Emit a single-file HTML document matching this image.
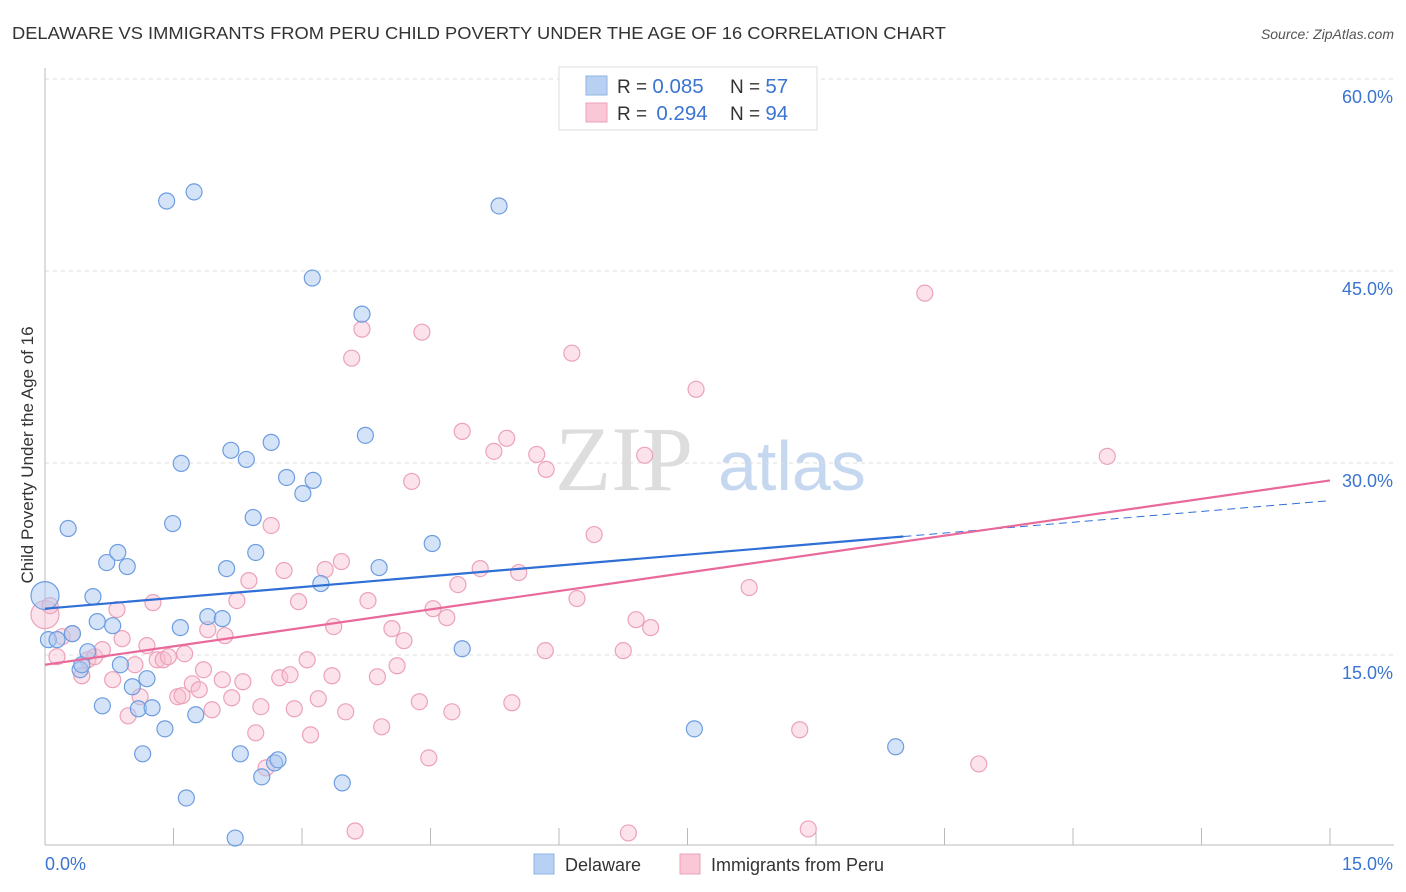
<!DOCTYPE html>
<html><head><meta charset="utf-8"><style>
body{margin:0;background:#fff;font-family:"Liberation Sans",sans-serif;}
svg{display:block}
</style></head><body>
<svg id="chart" width="1406" height="892">
<text x="12" y="39" font-size="17.5" fill="#333" textLength="934" lengthAdjust="spacingAndGlyphs">DELAWARE VS IMMIGRANTS FROM PERU CHILD POVERTY UNDER THE AGE OF 16 CORRELATION CHART</text>
<text x="1394" y="39" font-size="14" fill="#555" font-style="italic" text-anchor="end">Source: ZipAtlas.com</text>
<text x="33" y="455" font-size="17" fill="#333" text-anchor="middle" transform="rotate(-90 33 455)">Child Poverty Under the Age of 16</text>
<g><text x="555" y="490" font-size="92" font-family="Liberation Serif,serif" fill="#ddd">ZIP</text><text x="718" y="490" font-size="70" fill="#c5d8f0">atlas</text></g>
<g id="grid"></g><g id="axes"></g><g id="pts"></g><g id="lines"></g>
<g>
<rect x="559" y="67" width="258" height="63" fill="#fff" stroke="#ddd"/>
<rect x="586" y="76" width="21" height="19" fill="#b8d1f2" stroke="#8fb3e3"/>
<rect x="586" y="103" width="21" height="19" fill="#f9c7d6" stroke="#eba3ba"/>
<text x="617" y="93" font-size="19" fill="#333">R = <tspan fill="#3b74d1" font-size="20.5">0.085</tspan><tspan x="730">N = </tspan><tspan fill="#3b74d1" font-size="20.5">57</tspan></text>
<text x="617" y="120" font-size="19" fill="#333">R = <tspan fill="#3b74d1" dx="4" font-size="20.5">0.294</tspan><tspan x="730">N = </tspan><tspan fill="#3b74d1" font-size="20.5">94</tspan></text>
</g>
<g>
<rect x="534" y="854" width="20" height="20" fill="#b8d1f2" stroke="#8fb3e3"/>
<text x="565" y="871" font-size="18" fill="#333">Delaware</text>
<rect x="680" y="854" width="20" height="20" fill="#f9c7d6" stroke="#eba3ba"/>
<text x="711" y="871" font-size="18" fill="#333">Immigrants from Peru</text>
</g>
</svg>
<script>
const blueX=[0,.04,.27,.14,.32,.41,.43,.5,.56,.61,.67,.72,.79,.85,.88,.96,1.02,1.09,1.14,1.19,1.25,1.4,1.42,1.49,1.58,1.59,1.65,1.74,1.76,1.9,2.07,2.12,2.17,2.22,2.28,2.35,2.43,2.46,2.53,2.64,2.68,2.72,2.82,3.01,3.12,3.13,3.22,3.47,3.7,3.74,3.9,4.52,4.87,5.3,7.58,9.93];
const blueY=[19.64,16.2,24.88,16.2,16.67,13.85,14.24,15.26,19.56,17.61,11.03,22.22,17.29,23.01,14.24,21.91,12.52,10.8,7.28,13.15,10.88,9.23,50.47,25.27,17.14,29.97,3.83,51.18,10.33,18,17.84,21.75,30.99,.7,7.28,30.28,25.74,23.01,5.48,31.61,6.57,6.81,28.87,27.62,44.45,28.64,20.58,5.01,41.63,32.16,21.83,23.71,15.49,50.08,9.23,7.83];
const pinkX=[0,.06,.14,.2,.32,.43,.5,.58,.67,.79,.84,.9,.97,1.05,1.11,1.19,1.26,1.31,1.38,1.44,1.55,1.6,1.63,1.72,1.8,1.85,1.95,1.9,2.07,2.1,2.18,2.24,2.31,2.38,2.46,2.52,2.58,2.64,2.74,2.79,2.86,2.91,2.96,3.06,3.1,3.19,3.27,3.35,3.37,3.46,3.51,3.58,3.62,3.7,3.77,3.88,3.93,4.05,4.11,4.19,4.28,4.37,4.4,4.48,4.53,4.69,4.75,4.82,4.87,5.08,5.24,5.39,5.45,5.53,5.74,5.84,5.85,6.15,6.21,6.41,6.75,6.81,6.9,7,7.07,7.6,8.22,8.81,8.91,10.27,10.9,12.4];
const pinkY=[18.15,18.86,14.87,16.43,16.67,13.38,14.63,14.87,15.42,13.07,18.55,16.28,10.25,14.24,11.74,15.73,19.09,14.63,14.63,14.87,11.74,11.82,15.1,12.75,12.29,13.85,10.72,16.98,13.07,16.51,11.66,19.25,12.91,20.81,8.92,10.96,6.18,25.12,13.22,21.6,13.46,10.8,19.17,14.63,8.76,11.58,21.68,13.38,17.22,22.3,10.56,38.19,1.25,40.46,19.25,13.3,9.39,17.06,14.16,16.12,28.56,11.35,40.22,6.96,18.62,17.92,10.56,20.5,32.47,21.75,30.91,31.93,11.27,21.44,30.67,15.34,29.5,38.58,19.41,24.41,15.34,1.1,17.76,30.6,17.14,35.76,20.27,9.16,1.41,43.27,6.49,30.52];
const blueTrend=[18.62,27.06];const blueSolidEnd=10.02;
const pinkTrend=[14.24,28.64];
const yTicks=[15,30,45,60];const xTicks=[0,1.5,3,4.5,6,7.5,9,10.5,12,13.5,15];
const sx=v=>45+v/15*1285, sy=v=>847-v/60*768;
const NS="http://www.w3.org/2000/svg";
function mk(t,a,p){const e=document.createElementNS(NS,t);for(const k in a)e.setAttribute(k,a[k]);p.appendChild(e);return e;}
const grid=document.getElementById('grid'),axes=document.getElementById('axes');
yTicks.forEach(t=>{const l=mk('line',{x1:45,x2:1394,y1:sy(t),y2:sy(t),stroke:'#ddd','stroke-dasharray':'4,4'},grid);


const tx=mk('text',{x:1393,y:sy(t)+24,'font-size':18,fill:'#3b74d1','text-anchor':'end'},axes);tx.textContent=t.toFixed(1)+'%';

});
const ax=mk('line',{x1:45,x2:1394,y1:845,y2:845,stroke:'#bbb'},axes);


const ay=mk('line',{x1:45,x2:45,y1:68,y2:845,stroke:'#bbb'},axes);


xTicks.forEach(t=>{const l=mk('line',{x1:sx(t),x2:sx(t),y1:828,y2:845,stroke:'#bbb'},axes);

});
[[0,'0.0%','start',45],[15,'15.0%','end',1393]].forEach(d=>{const t=mk('text',{x:d[3],y:870,'font-size':18,fill:'#3b74d1','text-anchor':d[2]},axes);t.textContent=d[1];

});
const pts=document.getElementById('pts');
function dots(X,Y,fill,stroke,name){X.forEach((x,i)=>{const c=mk('circle',{cx:sx(x),cy:sy(Y[i]),r:i==0?14:8,fill:fill,stroke:stroke,'stroke-width':1.2},pts);

});}
dots(pinkX,pinkY,'rgba(249,190,208,0.45)','#eca2ba','peru-point');
dots(blueX,blueY,'rgba(170,199,240,0.5)','#6d9de0','delaware-point');
const lines=document.getElementById('lines');
const bs=blueTrend[0]+(blueTrend[1]-blueTrend[0])*blueSolidEnd/15;
const b1=mk('line',{x1:sx(0),y1:sy(blueTrend[0]),x2:sx(blueSolidEnd),y2:sy(bs),stroke:'#2f6fd6','stroke-width':2.2},lines);


const b2=mk('line',{x1:sx(blueSolidEnd),y1:sy(bs),x2:sx(15),y2:sy(blueTrend[1]),stroke:'#2f6fd6','stroke-width':1,'stroke-dasharray':'8,5'},lines);


const p1=mk('line',{x1:sx(0),y1:sy(pinkTrend[0]),x2:sx(15),y2:sy(pinkTrend[1]),stroke:'#e8699a','stroke-width':2.2},lines);


</script>
</body></html>
